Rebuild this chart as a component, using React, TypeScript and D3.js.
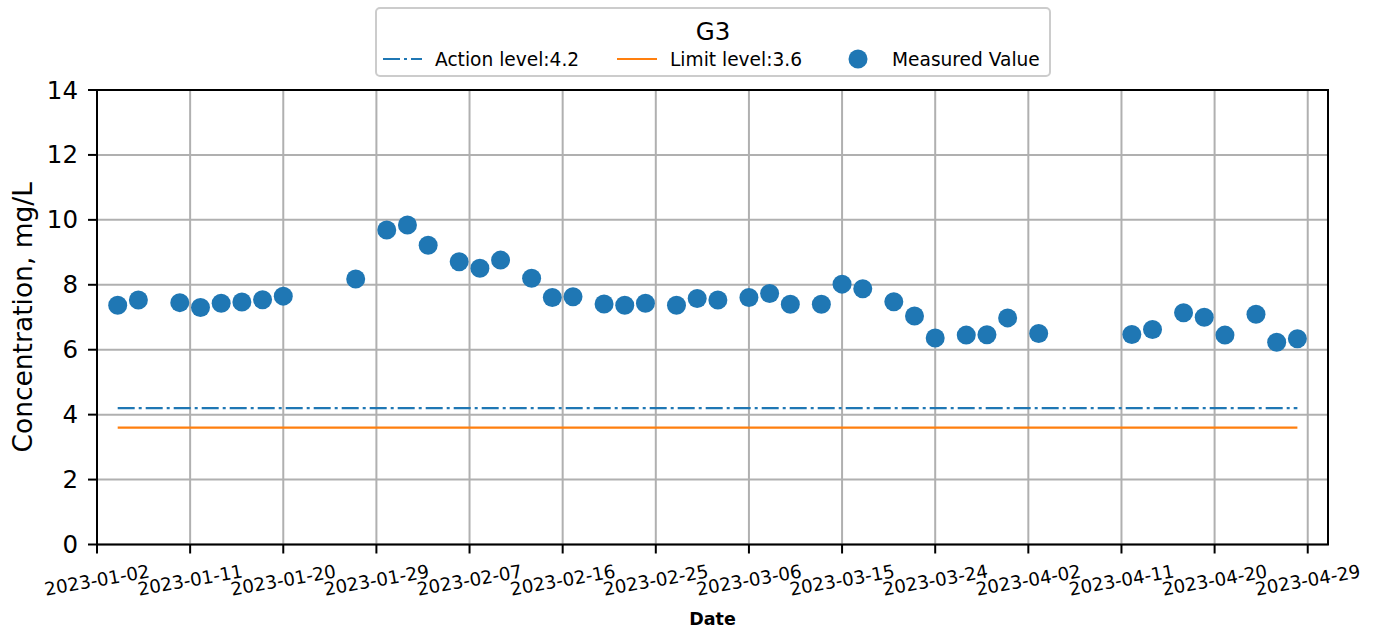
import React from 'react';
import * as d3 from 'd3';

const dates = [
  '2023-01-04', '2023-01-06', '2023-01-10', '2023-01-12', '2023-01-14', '2023-01-16', '2023-01-18', '2023-01-20',
  '2023-01-27', '2023-01-30', '2023-02-01', '2023-02-03', '2023-02-06', '2023-02-08', '2023-02-10', '2023-02-13',
  '2023-02-15', '2023-02-17', '2023-02-20', '2023-02-22', '2023-02-24', '2023-02-27', '2023-03-01', '2023-03-03',
  '2023-03-06', '2023-03-08', '2023-03-10', '2023-03-13', '2023-03-15', '2023-03-17', '2023-03-20', '2023-03-22',
  '2023-03-24', '2023-03-27', '2023-03-29', '2023-03-31', '2023-04-03', '2023-04-12', '2023-04-14', '2023-04-17',
  '2023-04-19', '2023-04-21', '2023-04-24', '2023-04-26', '2023-04-28',
];
const values = [
  7.37, 7.53, 7.45, 7.30, 7.43, 7.47, 7.54, 7.65,
  8.18, 9.69, 9.84, 9.22, 8.71, 8.51, 8.76, 8.20,
  7.61, 7.63, 7.41, 7.37, 7.43, 7.37, 7.58, 7.53,
  7.61, 7.73, 7.40, 7.40, 8.02, 7.88, 7.48, 7.04,
  6.36, 6.45, 6.46, 6.98, 6.50, 6.47, 6.62, 7.14,
  7.00, 6.45, 7.09, 6.23, 6.34,
];
const xTickLabels = [
  '2023-01-02', '2023-01-11', '2023-01-20', '2023-01-29', '2023-02-07', '2023-02-16', '2023-02-25',
  '2023-03-06', '2023-03-15', '2023-03-24', '2023-04-02', '2023-04-11', '2023-04-20', '2023-04-29',
];
const yTicks = [0, 2, 4, 6, 8, 10, 12, 14];
const levelStart = '2023-01-04';
const levelEnd = '2023-04-28';
const actionLevel = 4.2;
const limitLevel = 3.6;
const title = 'G3';

const W = 1377;
const H = 632;
const L = 97;
const R = 1328;
const T = 90;
const B = 544.5;
const FONT = 'DejaVu Sans, sans-serif';
const BLUE = '#1f77b4';
const ORANGE = '#ff7f0e';

const parse = (s: string) => new Date(s + 'T00:00:00Z');

export default function App() {
  const x = d3.scaleUtc()
    .domain([parse('2023-01-02'), new Date(Date.UTC(2023, 3, 30, 23))])
    .range([L, R]);
  const y = d3.scaleLinear().domain([0, 14]).range([B, T]);
  const levelLine = d3.line<[Date, number]>()
    .x((d) => x(d[0]))
    .y((d) => y(d[1]));
  const actionPath = levelLine([[parse(levelStart), actionLevel], [parse(levelEnd), actionLevel]]);
  const limitPath = levelLine([[parse(levelStart), limitLevel], [parse(levelEnd), limitLevel]]);

  return (
    <svg width={W} height={H} style={{ position: 'absolute', left: 0, top: 0, background: '#fff' }} fontFamily={FONT}>
      <rect x={0} y={0} width={W} height={H} fill="#fff" />
      {/* grid */}
      <g stroke="#b0b0b0" strokeWidth={2}>
        {xTickLabels.map((t) => (
          <line key={t} x1={x(parse(t))} x2={x(parse(t))} y1={T} y2={B} />
        ))}
        {yTicks.map((v) => (
          <line key={v} x1={L} x2={R} y1={y(v)} y2={y(v)} />
        ))}
      </g>
      {/* level lines */}
      <path d={limitPath || ''} stroke={ORANGE} strokeWidth={2.2} fill="none" />
      <path d={actionPath || ''} stroke={BLUE} strokeWidth={2.2} fill="none" strokeDasharray="17,4,3,4" />
      {/* points */}
      <g fill={BLUE}>
        {dates.map((d, i) => (
          <circle key={d} cx={x(parse(d))} cy={y(values[i])} r={9.5} />
        ))}
      </g>
      {/* spines */}
      <rect x={L} y={T} width={R - L} height={B - T} fill="none" stroke="#000" strokeWidth={2} />
      {/* y ticks */}
      <g>
        {yTicks.map((v) => (
          <g key={v}>
            <line x1={L - 9} x2={L} y1={y(v)} y2={y(v)} stroke="#000" strokeWidth={2} />
            <text x={L - 19} y={y(v)} textAnchor="end" dominantBaseline="central" fontSize={24.5} fill="#000">
              {v}
            </text>
          </g>
        ))}
      </g>
      {/* x ticks */}
      <g>
        {xTickLabels.map((t) => (
          <g key={t}>
            <line x1={x(parse(t))} x2={x(parse(t))} y1={B} y2={B + 9} stroke="#000" strokeWidth={2} />
            <g transform={`translate(${x(parse(t))},580) rotate(-10)`}>
              <text x={0} y={0} textAnchor="middle" dominantBaseline="central" fontSize={18.3} fill="#000">
                {t}
              </text>
            </g>
          </g>
        ))}
      </g>
      {/* axis labels */}
      <text x={(L + R) / 2} y={619} textAnchor="middle" dominantBaseline="central" fontSize={17.5} fontWeight="bold">
        Date
      </text>
      <text
        transform={`translate(22,${(T + B) / 2}) rotate(-90)`}
        textAnchor="middle"
        dominantBaseline="central"
        fontSize={26.5}
      >
        Concentration, mg/L
      </text>
      {/* legend */}
      <g>
        <rect x={376} y={8} width={674} height={68} rx={4} fill="#fff" stroke="#cccccc" strokeWidth={2} />
        <text x={713} y={31} textAnchor="middle" dominantBaseline="central" fontSize={24.5}>
          {title}
        </text>
        <line x1={383} x2={422} y1={59} y2={59} stroke={BLUE} strokeWidth={2.2} strokeDasharray="17,4,3,4" />
        <text x={435} y={59} dominantBaseline="central" fontSize={18.6}>Action level:4.2</text>
        <line x1={617} x2={657} y1={59} y2={59} stroke={ORANGE} strokeWidth={2.2} />
        <text x={670} y={59} dominantBaseline="central" fontSize={18.6}>Limit level:3.6</text>
        <circle cx={858} cy={59} r={9.5} fill={BLUE} />
        <text x={892} y={59} dominantBaseline="central" fontSize={18.6}>Measured Value</text>
      </g>
    </svg>
  );
}
